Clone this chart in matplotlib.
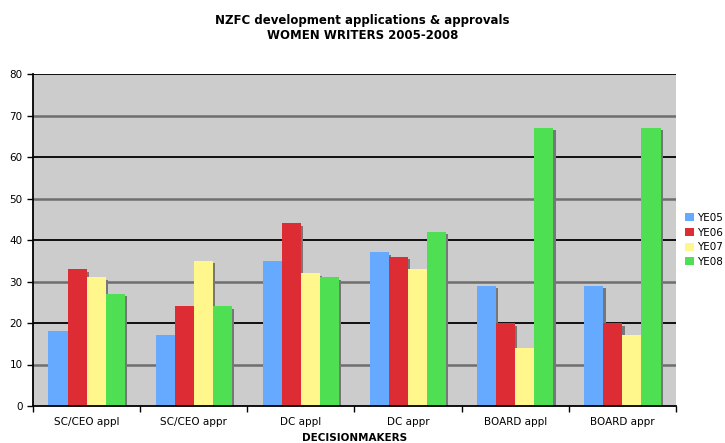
import numpy as np
import matplotlib.pyplot as plt
import matplotlib.patheffects as pe
from matplotlib.patches import Patch

categories = ["SC/CEO appl", "SC/CEO appr", "DC appl", "DC appr", "BOARD appl", "BOARD appr"]
series = ["YE05", "YE06", "YE07", "YE08"]
ye05 = [18, 17, 35, 37, 29, 29]
ye06 = [33, 24, 44, 36, 20, 20]
ye07 = [31, 35, 32, 33, 14, 17]
ye08 = [27, 24, 31, 42, 67, 67]
colors = ["#66aaff", "#dd2c33", "#fff68c", "#4ee052"]

fig = plt.figure(figsize=(7.25, 4.43), dpi=100)
ax = fig.add_axes([33 / 725, 1 - 406 / 443, 643 / 725, 332 / 443])
ax.set_facecolor("#cccccc")

x = np.arange(len(categories))
w = 0.178
shadow = [pe.SimplePatchShadow(offset=(1.6, -1.8), shadow_rgbFace="#777777", alpha=1.0), pe.Normal()]
for i, vals in enumerate([ye05, ye06, ye07, ye08]):
    ax.bar(x + (i - 1.5) * w, vals, w, color=colors[i],
           path_effects=shadow, zorder=3)

for yv in range(10, 81, 10):
    c = "black" if yv % 20 == 0 else "#6e6e6e"
    lw = 1.3 if yv % 20 == 0 else 1.8
    ax.axhline(yv, color=c, lw=lw, zorder=1)

ax.set_xlim(-0.5, len(categories) - 0.5)
ax.set_ylim(0, 80)
ax.set_yticks(range(0, 81, 10))
ax.set_xticks(x)
ax.set_xticklabels(categories, fontsize=7.5)
ax.set_xticks(np.arange(-0.5, len(categories)), minor=True)
ax.tick_params(axis="x", which="major", length=0, pad=8)
ax.tick_params(axis="x", which="minor", length=4, width=1)
ax.tick_params(axis="y", labelsize=7.5, length=4, width=1)
for s in ["top", "right"]:
    ax.spines[s].set_visible(False)
ax.spines["left"].set_linewidth(1.3)
ax.spines["bottom"].set_linewidth(1.3)
ax.spines["bottom"].set_zorder(4)

ax.set_xlabel("DECISIONMAKERS", fontsize=7.5, fontweight="bold", labelpad=4)
fig.text(0.5, 1 - 28 / 443, "NZFC development applications & approvals\nWOMEN WRITERS 2005-2008",
         ha="center", va="center", fontsize=8.5, fontweight="bold", linespacing=1.25)

handles = [Patch(facecolor=c, label=s) for c, s in zip(colors, series)]
ax.legend(handles=handles, loc="center left", bbox_to_anchor=(1.005, 0.5), frameon=False,
          fontsize=7.5, handlelength=0.8, handleheight=0.8, handletextpad=0.3,
          labelspacing=0.45, borderaxespad=0.2)

fig.savefig("out.png", dpi=100)
